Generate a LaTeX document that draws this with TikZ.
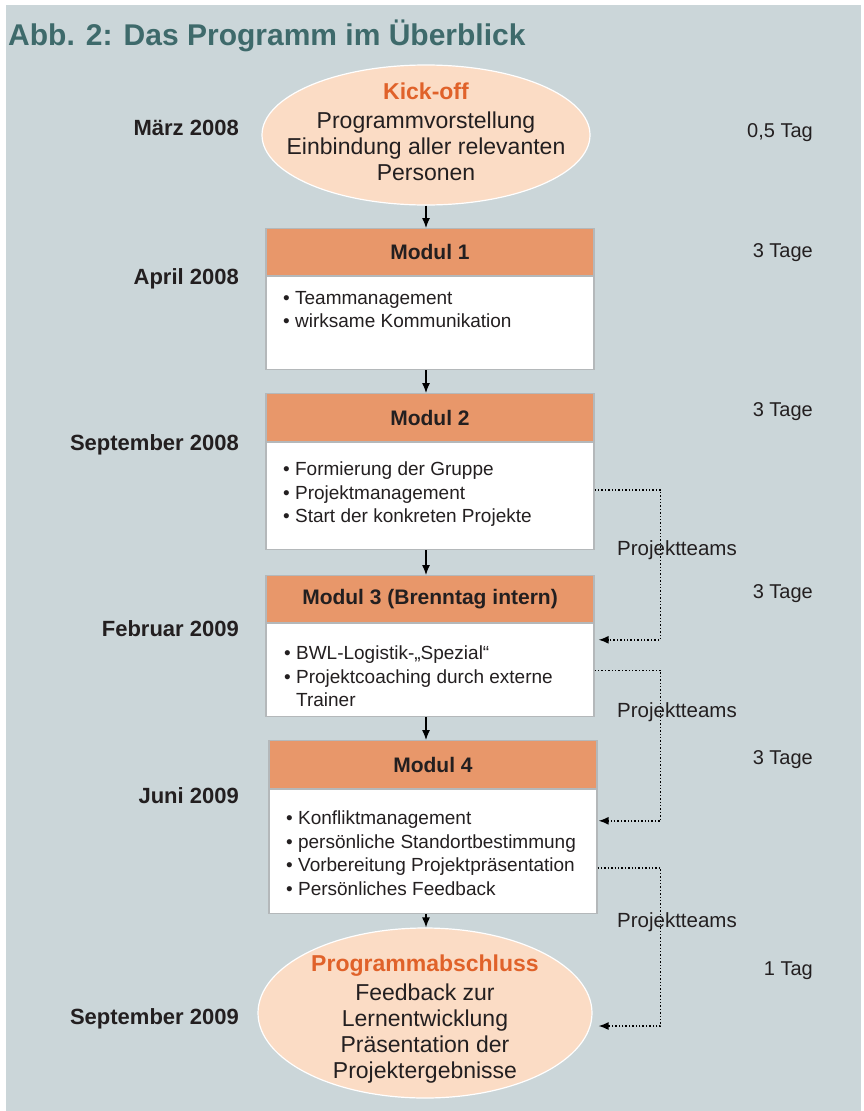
\documentclass[tikz,border=0pt]{standalone}
\usepackage{fontspec}
\setmainfont{Liberation Sans}
\usetikzlibrary{arrows.meta,positioning,shapes.geometric}
\definecolor{bggrey}{RGB}{203,214,217}
\definecolor{titleteal}{RGB}{62,106,107}
\definecolor{hdrorange}{RGB}{232,151,106}
\definecolor{ovalfill}{RGB}{251,220,197}
\definecolor{kickorange}{RGB}{224,98,42}
\definecolor{boxgrey}{RGB}{180,184,186}
\definecolor{ink}{RGB}{35,31,32}

\begin{document}
\begin{tikzpicture}[
      x=1pt,
      y=-1pt,
      >={Latex[length=10pt,width=8pt]},
      flow/.style={->, line width=1.2pt},
      team/.style={->, dotted, line width=1.4pt},
      oval/.style={ellipse, draw=white, line width=1.2pt, fill=ovalfill},
      ovaltext/.style={align=center, text=ink, font=\fontsize{23}{26}\selectfont},
      hdr/.style={draw=boxgrey, line width=1.2pt, fill=hdrorange, anchor=north,
        minimum width=328, minimum height=47, text=ink,
        font=\bfseries\fontsize{21}{25}\selectfont},
      body/.style={draw=boxgrey, line width=1.2pt, fill=white, anchor=north,
        minimum width=328},
      items/.style={anchor=north west, align=left, inner sep=0pt, text=ink,
        font=\fontsize{19}{23.5}\selectfont},
      when/.style={anchor=base east, inner sep=0pt, text=ink,
        font=\bfseries\fontsize{22}{25}\selectfont},
      span/.style={anchor=base east, inner sep=0pt, text=ink,
        font=\fontsize{20}{24}\selectfont},
      teams/.style={anchor=base, inner sep=0pt, text=ink,
        font=\fontsize{20.5}{24}\selectfont}
    ]
    \useasboundingbox (0,0) rectangle (863,1111);
    \fill[white] (0,0) rectangle (863,1111);
    \fill[bggrey] (6,5) rectangle (861,1111);

    \node[anchor=base west, inner sep=0pt, text=titleteal,
      font=\bfseries\fontsize{30}{34}\selectfont] (title) at (8,45)
      {Abb. 2: Das Programm im Überblick};

    % Programmablauf
    \node[oval, minimum width=328, minimum height=140,
      label={[ovaltext, yshift=3.5pt]center:{\textcolor{kickorange}{\bfseries Kick-off}\\[3pt]
        Programmvorstellung\\Einbindung aller relevanten\\Personen}}] (kickoff) at (426,135) {};

    \node[hdr] (m1hdr) at (430,228) {Modul 1};
    \node[body, minimum height=93] (m1body) at (m1hdr.south) {};
    \node[items] (m1list) at (283,291) {• Teammanagement\\• wirksame Kommunikation};

    \node[hdr, minimum height=48] (m2hdr) at (430,393) {Modul 2};
    \node[body, minimum height=107] (m2body) at (m2hdr.south) {};
    \node[items] (m2list) at (283,462)
      {• Formierung der Gruppe\\• Projektmanagement\\• Start der konkreten Projekte};

    \node[hdr] (m3hdr) at (430,575) {Modul 3 (Brenntag intern)};
    \node[body, minimum height=93] (m3body) at (m3hdr.south) {};
    \node[items] (m3list) at (284,646)
      {• BWL-Logistik-„Spezial“\\• Projektcoaching durch externe\\\hphantom{• }Trainer};

    \node[hdr, minimum height=48] (m4hdr) at (433,740) {Modul 4};
    \node[body, minimum height=124] (m4body) at (m4hdr.south) {};
    \node[items] (m4list) at (286,811)
      {• Konfliktmanagement\\• persönliche Standortbestimmung\\
       • Vorbereitung Projektpräsentation\\• Persönliches Feedback};

    \node[oval, minimum width=334, minimum height=170,
      label={[ovaltext, yshift=-6.5pt]center:{\textcolor{kickorange}{\bfseries Programmabschluss}\\[3pt]
        Feedback zur\\Lernentwicklung\\Präsentation der\\Projektergebnisse}}] (closing) at (425,1013) {};

    \draw[flow] (kickoff.south) -- (kickoff.south |- m1hdr.north);
    \draw[flow] (m1body.south -| kickoff) -- (m2hdr.north -| kickoff);
    \draw[flow] (m2body.south -| kickoff) -- (m3hdr.north -| kickoff);
    \draw[flow] (m3body.south -| kickoff) -- (m4hdr.north -| kickoff);
    \draw[flow] (m4body.south -| kickoff) -- (closing.north -| kickoff);

    % Projektteams
    \draw[team] ([yshift=6.5pt]m2body.east) -- ++(66,0) |- ([xshift=4pt,yshift=30.5pt]m3body.east);
    \draw[team] (m3body.east) -- ++(66,0) |- ([xshift=1pt,yshift=31pt]m4body.east);
    \draw[team] ([yshift=-16pt]m4body.east) -- ++(63,0) |- ([xshift=6pt,yshift=-13pt]closing.east);
    \node[teams] (teamsA) at (677,555) {Projektteams};
    \node[teams] (teamsB) at (677,717) {Projektteams};
    \node[teams] (teamsC) at (677,927) {Projektteams};

    % Termine
    \node[when] (dateA) at (239,135) {März 2008};
    \node[when] (dateB) at (239,284) {April 2008};
    \node[when] (dateC) at (239,450) {September 2008};
    \node[when] (dateD) at (239,636) {Februar 2009};
    \node[when] (dateE) at (239,803) {Juni 2009};
    \node[when] (dateF) at (239,1024) {September 2009};

    % Dauer
    \node[span] (daysA) at (813,137) {0,5 Tag};
    \node[span] (daysB) at (813,257) {3 Tage};
    \node[span] (daysC) at (813,416) {3 Tage};
    \node[span] (daysD) at (813,598) {3 Tage};
    \node[span] (daysE) at (813,764) {3 Tage};
    \node[span] (daysF) at (813,975) {1 Tag};
  \end{tikzpicture}
\end{document}
